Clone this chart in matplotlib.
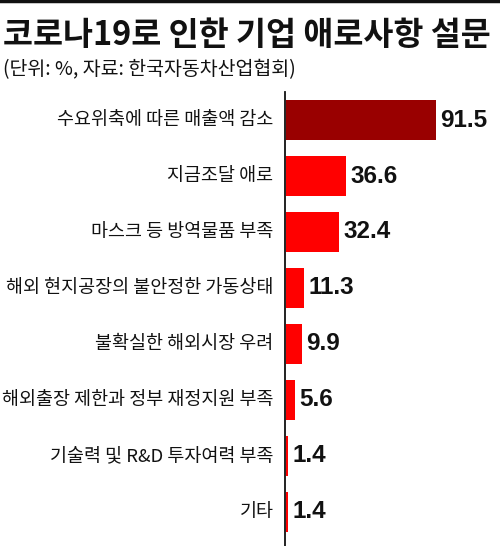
import matplotlib
matplotlib.use("Agg")
import matplotlib.pyplot as plt

plt.rcParams['font.family'] = ['Noto Sans CJK KR', 'DejaVu Sans']

# data
categories = ['수요위축에 따른 매출액 감소', '지금조달 애로', '마스크 등 방역물품 부족',
              '해외 현지공장의 불안정한 가동상태', '불확실한 해외시장 우려',
              '해외출장 제한과 정부 재정지원 부족', '기술력 및 R&D 투자여력 부족', '기타']
values = [91.5, 36.6, 32.4, 11.3, 9.9, 5.6, 1.4, 1.4]
value_labels = ['91.5', '36.6', '32.4', '11.3', '9.9', '5.6', '1.4', '1.4']

title = '코로나19로 인한 기업 애로사항 설문'
subtitle = '(단위: %, 자료: 한국자동차산업협회)'

fig = plt.figure(figsize=(5.0, 5.46), dpi=100)
ax = fig.add_axes([0.57, 0.0, 0.43, 1 - 92 / 546])

colors = ['#990000'] + ['#ff0000'] * (len(values) - 1)
pos = list(range(len(values)))
ax.barh(pos, values, height=0.73, color=colors, left=0.4)
ax.set_xlim(0, 131)
ax.set_ylim(-0.5 + 454 / 56, -0.5)

for p, v, lab in zip(pos, values, value_labels):
    ax.text(v + 3, p, lab, va='center', ha='left', fontsize=17.5,
            family=['Liberation Sans', 'DejaVu Sans'], weight='bold',
            color='#111111')
    ax.text(-7, p, categories[p], va='center', ha='right', fontsize=13.3,
            color='#111111', clip_on=False)

for s in ['top', 'right', 'bottom']:
    ax.spines[s].set_visible(False)
ax.spines['left'].set_linewidth(1.3)
ax.spines['left'].set_color('#111111')
ax.set_xticks([])
ax.set_yticks([])

# top rule, title and source
fig.add_artist(plt.Line2D([0, 1], [0.998, 0.998], color='#111111', linewidth=2.5))
fig.text(0.006, 1 - 36 / 546, title, fontsize=23.5, weight='black',
         va='center', ha='left', color='#111111')
fig.text(0.006, 1 - 70 / 546, subtitle, fontsize=14, weight='medium',
         va='center', ha='left', color='#111111')

fig.savefig('out.png', dpi=100)
